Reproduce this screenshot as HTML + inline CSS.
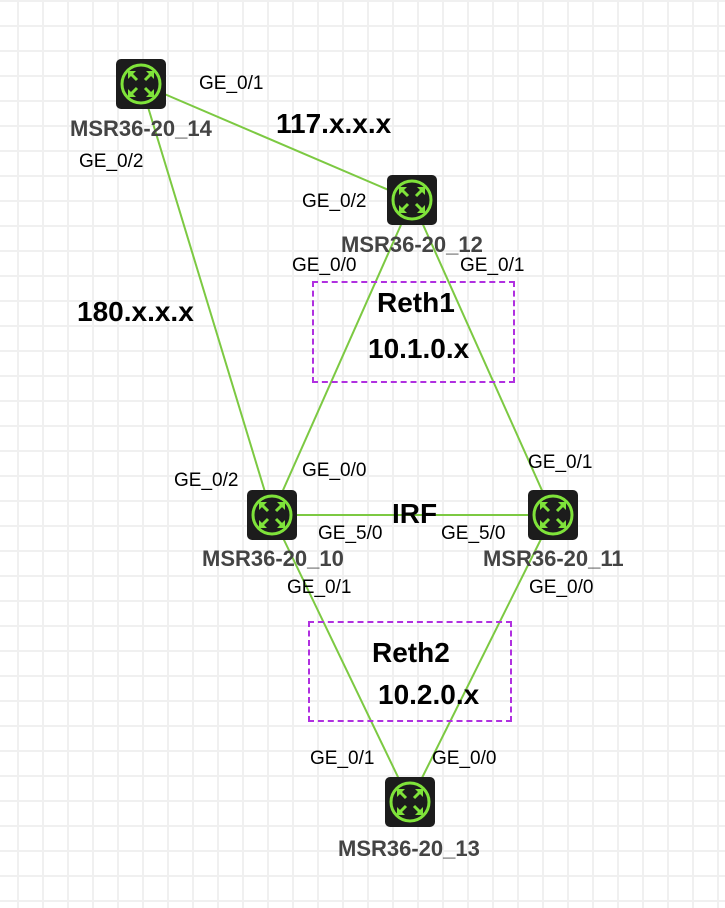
<!DOCTYPE html>
<html><head><meta charset="utf-8"><style>
html,body{margin:0;padding:0}
body{width:725px;height:908px;position:relative;overflow:hidden;background-color:#fff;
background-image:linear-gradient(to right,#f0f0f0 2px,transparent 2px),linear-gradient(to bottom,#f0f0f0 2px,transparent 2px);
background-size:25px 25px;background-position:17px 0px;font-family:"Liberation Sans",sans-serif}
.t{position:absolute;font-size:19px;color:#000;white-space:nowrap;line-height:1}
.n{position:absolute;font-size:22px;font-weight:bold;color:#444;white-space:nowrap;line-height:1}
.b{position:absolute;font-size:28px;font-weight:bold;color:#000;white-space:nowrap;line-height:1}
.box{position:absolute;border:2px dashed #b030e0}
</style></head><body>
<svg width="725" height="908" style="position:absolute;left:0;top:0">
<g stroke="#7cc942" stroke-width="2">
<line x1="141" y1="84" x2="412" y2="200"/>
<line x1="141" y1="84" x2="272" y2="515"/>
<line x1="412" y1="200" x2="272" y2="515"/>
<line x1="412" y1="200" x2="553" y2="515"/>
<line x1="272" y1="515" x2="553" y2="515"/>
<line x1="272" y1="515" x2="410" y2="802"/>
<line x1="553" y1="515" x2="410" y2="802"/>
</g></svg>
<div class="box" style="left:312px;top:281px;width:199px;height:98px"></div>
<div class="box" style="left:308px;top:621px;width:200px;height:97px"></div>
<svg width="725" height="908" style="position:absolute;left:0;top:0">
<defs><g id="ic">
<rect x="-25" y="-25" width="50" height="50" rx="5" fill="#1c1c1c"/>
<circle r="19" fill="none" stroke="#7fe33a" stroke-width="3"/>
<g stroke="#7fe33a" stroke-width="3" fill="none">
<path d="M-11 -11 L-4 -4 M11 -11 L4 -4 M-11 11 L-4 4 M11 11 L4 4"/>
</g>
<g fill="#7fe33a">
<path d="M-13 -13 L-5 -13 L-13 -5Z M13 -13 L5 -13 L13 -5Z M-13 13 L-5 13 L-13 5Z M13 13 L5 13 L13 5Z"/>
</g></g></defs>
<use href="#ic" x="141" y="84"/>
<use href="#ic" x="412" y="200"/>
<use href="#ic" x="272" y="515"/>
<use href="#ic" x="553" y="515"/>
<use href="#ic" x="410" y="802"/>
</svg>
<div class="n" style="left:70px;top:118px">MSR36-20_14</div>
<div class="n" style="left:341px;top:234px">MSR36-20_12</div>
<div class="n" style="left:202px;top:548px">MSR36-20_10</div>
<div class="n" style="left:483px;top:548px">MSR36-20_11</div>
<div class="n" style="left:338px;top:838px">MSR36-20_13</div>
<div class="t" style="left:199px;top:74px">GE_0/1</div>
<div class="t" style="left:79px;top:152px">GE_0/2</div>
<div class="t" style="left:302px;top:192px">GE_0/2</div>
<div class="t" style="left:292px;top:256px">GE_0/0</div>
<div class="t" style="left:460px;top:256px">GE_0/1</div>
<div class="t" style="left:174px;top:471px">GE_0/2</div>
<div class="t" style="left:302px;top:461px">GE_0/0</div>
<div class="t" style="left:528px;top:453px">GE_0/1</div>
<div class="t" style="left:318px;top:524px">GE_5/0</div>
<div class="t" style="left:441px;top:524px">GE_5/0</div>
<div class="t" style="left:287px;top:578px">GE_0/1</div>
<div class="t" style="left:529px;top:578px">GE_0/0</div>
<div class="t" style="left:310px;top:749px">GE_0/1</div>
<div class="t" style="left:432px;top:749px">GE_0/0</div>
<div class="b" style="left:276px;top:110px">117.x.x.x</div>
<div class="b" style="left:77px;top:298px">180.x.x.x</div>
<div class="b" style="left:377px;top:289px">Reth1</div>
<div class="b" style="left:368px;top:335px">10.1.0.x</div>
<div class="b" style="left:392px;top:500px">IRF</div>
<div class="b" style="left:372px;top:639px">Reth2</div>
<div class="b" style="left:378px;top:681px">10.2.0.x</div>
</body></html>
